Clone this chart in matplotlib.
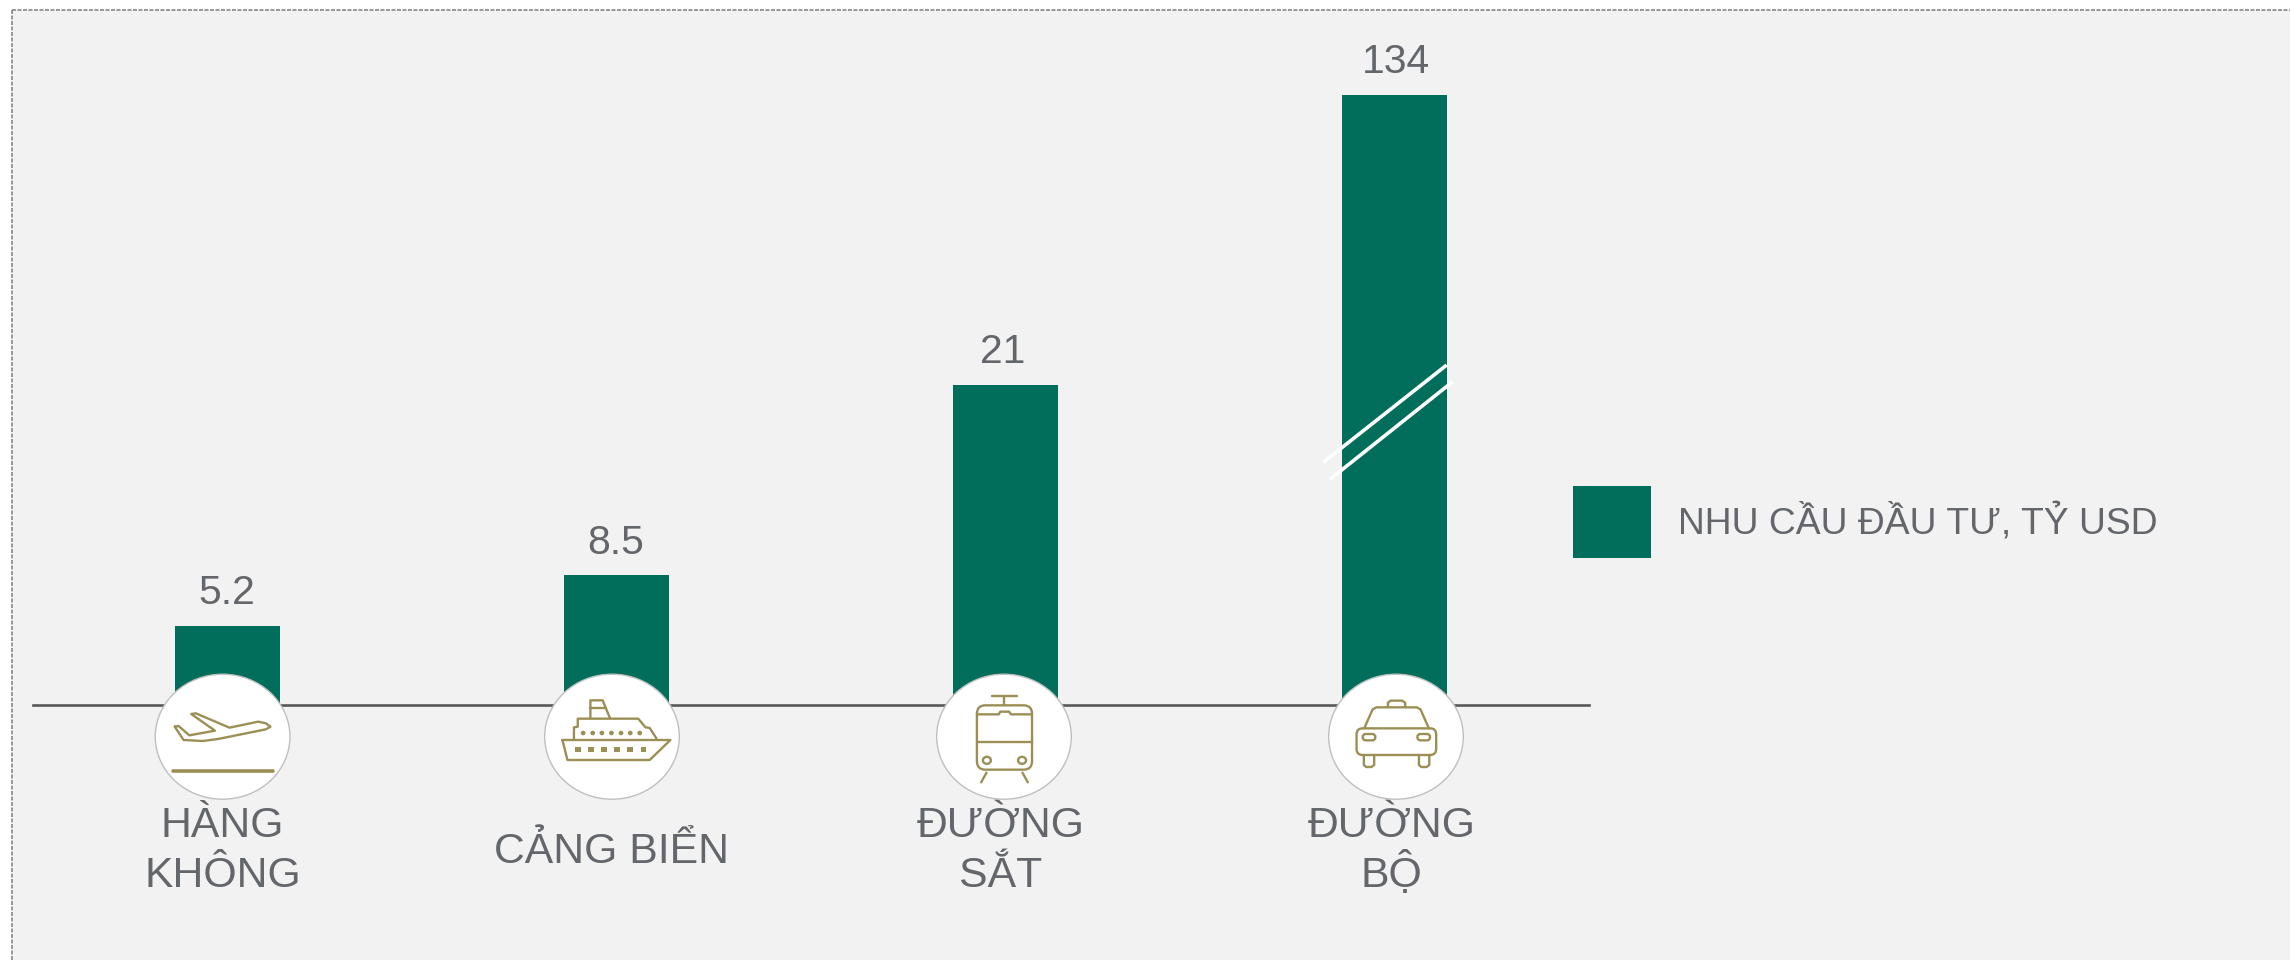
import numpy as np
import matplotlib
matplotlib.use("Agg")
import matplotlib.pyplot as plt
from matplotlib.patches import Ellipse, Rectangle, FancyBboxPatch, Patch

plt.rcParams['font.family'] = ['Liberation Sans', 'DejaVu Sans']

# ---- data ----
categories = ["HÀNG\nKHÔNG", "CẢNG BIỂN", "ĐƯỜNG\nSẮT", "ĐƯỜNG\nBỘ"]
values = [5.2, 8.5, 21, 134]
series_name = "NHU CẦU ĐẦU TƯ, TỶ USD"

# ---- styles ----
W, H = 2290, 960
BG = "#F2F2F2"
GREEN = "#006E5B"
GOLD = "#9C8F55"
TEXT = "#63666A"
BREAK_AT, BREAK_K = 25.0, 0.1378


def fwd(y):
    y = np.asarray(y, dtype=float)
    return np.where(y <= BREAK_AT, y, BREAK_AT + (y - BREAK_AT) * BREAK_K)


def inv(y):
    y = np.asarray(y, dtype=float)
    return np.where(y <= BREAK_AT, y, BREAK_AT + (y - BREAK_AT) / BREAK_K)


fig = plt.figure(figsize=(W / 100, H / 100), dpi=100, facecolor="white")

# Main axes: x spans 33..1589 px, y spans baseline 705 to top of tallest bar
ax = fig.add_axes([33 / W, 1 - 705 / H, (1589 - 33) / W, (705 - 94.7) / H], zorder=2)
ax.patch.set_alpha(0)
ax.set_yscale("function", functions=(fwd, inv))
x = np.arange(len(categories))
bars = ax.bar(x + 0.001, values, width=0.27, color=GREEN, label=series_name)
ax.set_xlim(-0.5, 3.5)
ax.set_ylim(0, max(values))
ax.set_xticks([])
ax.set_yticks([])
ax.minorticks_off()
for s in ("left", "right", "top"):
    ax.spines[s].set_visible(False)
ax.spines["bottom"].set_color("#595959")
ax.spines["bottom"].set_linewidth(1.9)

# value labels
value_dx = [-0.7, -0.7, -3, 1.2]
for xi, v, dx in zip(x, values, value_dx):
    ax.annotate(f"{v:g}", (xi, v), xytext=(dx, 21.5), textcoords="offset pixels",
                ha="center", va="baseline", fontsize=29.4, color=TEXT, annotation_clip=False)

# category labels, one text per line
label_dx = [-5, -5, -4.5, -3]
for xi, cat, dx in zip(x, categories, label_dx):
    lines = cat.split("\n")
    bases = [132, 182] if len(lines) == 2 else [158]
    for line, b in zip(lines, bases):
        ax.annotate(line, (xi, 0), xytext=(dx, -b), textcoords="offset pixels",
                    ha="center", va="baseline", fontsize=30.8, color=TEXT, annotation_clip=False)

# legend
fs = 26.8
px = fs * 100 / 72
fig.legend(handles=[Patch(color=GREEN, label=series_name, linewidth=0)], loc="center left",
           bbox_to_anchor=(1573 / W, 1 - 521.8 / H), bbox_transform=fig.transFigure,
           frameon=False, fontsize=fs, labelcolor=TEXT, borderpad=0, borderaxespad=0,
           handlelength=78 / px, handleheight=2.588, handletextpad=27.5 / px)

# Background axes in pixel coordinates
bg = fig.add_axes([0, 0, 1, 1], zorder=1)
bg.set_xlim(0, W)
bg.set_ylim(H, 0)
bg.axis("off")
bg.add_patch(Rectangle((11.5, 9.5), W, H, facecolor=BG, edgecolor="none"))
bg.plot([11.5, 11.5], [9.5, H], color="#7F7F7F", lw=1.1, ls=(0, (2.6, 1)))
bg.plot([11.5, W], [9.5, 9.5], color="#7F7F7F", lw=1.1, ls=(0, (2.6, 1)))

# Overlay axes in pixel coordinates: axis break and icons
ov = fig.add_axes([0, 0, 1, 1], zorder=3)
ov.set_xlim(0, W)
ov.set_ylim(H, 0)
ov.axis("off")
ov.patch.set_alpha(0)

ov.plot([1323.3, 1446.7], [462.3, 365], color="white", lw=2.6, solid_capstyle="butt")
ov.plot([1330, 1452.7], [479.3, 381.7], color="white", lw=2.6, solid_capstyle="butt")

for cx in (222.6, 612, 1004, 1396):
    ov.add_patch(Ellipse((cx, 736.7), 134.7, 125, facecolor="white", edgecolor="#BFBFBF", lw=1.0))


# icon helpers, coordinates given in zoomed crop units
def mk(ox, oy):
    def T(pts):
        return [(ox + u / 2.613, oy + v / 3) for u, v in pts]
    return T


def path(T, pts, close=False, lw=1.7):
    p = T(pts)
    if close:
        p = p + [p[0]]
    xs, ys = zip(*p)
    ov.plot(xs, ys, color=GOLD, lw=lw, solid_joinstyle="round", solid_capstyle="round")


def rrect(T, x0, y0, x1, y1, r, lw=1.7):
    (a, b), (c, d) = T([(x0, y0), (x1, y1)])
    rx = r / 2.613
    ov.add_patch(FancyBboxPatch((a + rx, b + rx), c - a - 2 * rx, d - b - 2 * rx,
                                boxstyle=f"round,pad={rx}", facecolor="none", edgecolor=GOLD, lw=lw))


T1 = mk(130, 640)
# plane
path(T1, [(117, 260), (127, 258), (155, 286), (222, 272), (160, 222), (172, 220), (260, 263),
          (335, 245), (355, 250), (367, 260), (355, 268), (230, 297), (190, 303), (140, 300)], close=True)
path(T1, [(112, 394), (374, 394)], lw=2.6)
# ship
path(T1, [(1130, 300), (1412, 300), (1358, 360), (1143, 360)], close=True)
path(T1, [(1160, 296), (1160, 262), (1170, 260), (1170, 236), (1328, 236), (1347, 262), (1358, 264), (1376, 296)])
path(T1, [(1203, 234), (1203, 181), (1235, 181), (1254, 234)])
path(T1, [(1203, 205), (1245, 205)])
for u in (1184, 1209, 1233, 1258, 1283, 1307, 1332):
    (a, b), = T1([(u, 279)])
    ov.add_patch(Ellipse((a, b), 4.8, 4.6, facecolor=GOLD, edgecolor="none"))
for u in (1171, 1205, 1239, 1273, 1307, 1342):
    (a, b), = T1([(u, 329)])
    ov.add_patch(Rectangle((a - 2.9, b - 2.7), 5.8, 5.4, facecolor=GOLD, edgecolor="none"))

T2 = mk(900, 640)
# train
rrect(T2, 201, 196, 345, 389, 22)
path(T2, [(240, 167), (306, 167)])
path(T2, [(272, 167), (272, 196)])
path(T2, [(201, 223), (258, 223), (262, 215), (285, 215), (290, 223), (345, 223)])
path(T2, [(201, 305), (345, 305)])
for u in (227, 319):
    (a, b), = T2([(u, 361)])
    ov.add_patch(Ellipse((a, b), 8, 7, facecolor="none", edgecolor=GOLD, lw=1.7))
path(T2, [(226, 398), (212, 427)])
path(T2, [(320, 398), (334, 427)])
# car
rrect(T2, 1193, 265, 1401, 345, 16)
path(T2, [(1213, 265), (1235, 208), (1245, 202), (1350, 202), (1360, 208), (1382, 265)])
path(T2, [(1275, 200), (1275, 188), (1282, 182), (1312, 182), (1320, 188), (1320, 200)])
rrect(T2, 1209, 282, 1242, 301, 8)
rrect(T2, 1352, 282, 1385, 301, 8)
path(T2, [(1212, 345), (1212, 375), (1218, 381), (1232, 381), (1239, 375), (1239, 345)])
path(T2, [(1356, 345), (1356, 375), (1362, 381), (1376, 381), (1383, 375), (1383, 345)])

fig.savefig("out.png", dpi=100, facecolor=fig.get_facecolor())
